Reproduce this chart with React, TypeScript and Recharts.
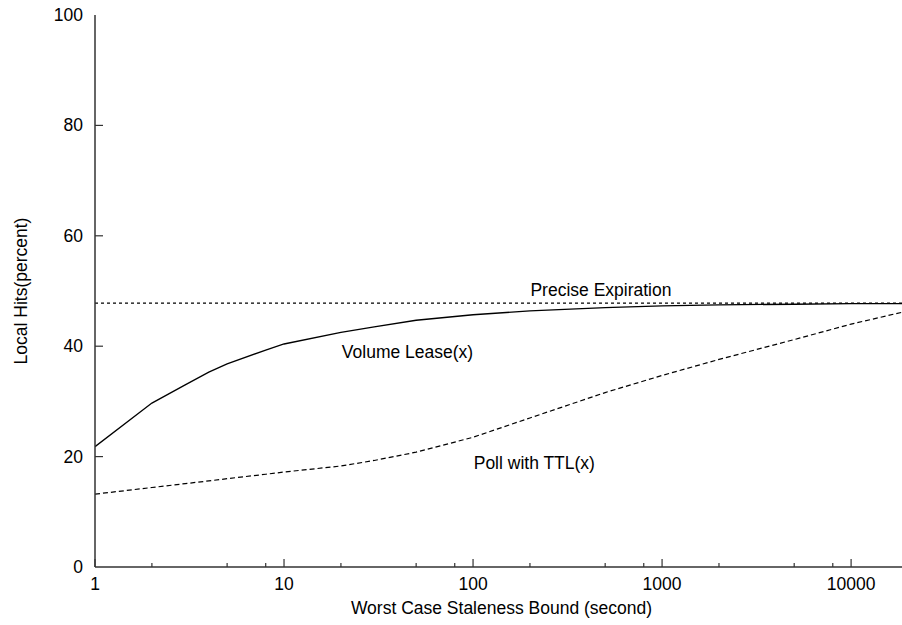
import { Label, Line, LineChart, ReferenceDot, XAxis, YAxis } from 'recharts'

const staleness = [1, 2, 3, 4, 5, 8, 10, 20, 30, 50, 100, 200, 500, 1000, 2000, 5000, 10000, 20000]
const preciseExpiration = [47.8, 47.8, 47.8, 47.8, 47.8, 47.8, 47.8, 47.8, 47.8, 47.8, 47.8, 47.8, 47.8, 47.8, 47.8, 47.8, 47.8, 47.8]
const volumeLease = [21.8, 29.7, 33.0, 35.3, 36.8, 39.3, 40.4, 42.5, 43.5, 44.7, 45.7, 46.4, 47.0, 47.3, 47.5, 47.6, 47.7, 47.7]
const pollTTL = [13.2, 14.4, 15.1, 15.6, 16.0, 16.8, 17.2, 18.3, 19.3, 20.8, 23.5, 27.0, 31.6, 34.7, 37.6, 41.2, 44.0, 46.4]

const xTicks = [1, 2, 5, 8, 10, 20, 50, 80, 100, 200, 500, 800, 1000, 2000, 5000, 8000, 10000, 20000]
const yTicks = [0, 20, 40, 60, 80, 100]

const curveLabels = [
  { x: 475, y: 50.2, text: 'Precise Expiration' },
  { x: 45, y: 38.9, text: 'Volume Lease(x)' },
  { x: 211, y: 18.8, text: 'Poll with TTL(x)' },
]

const rows = staleness.map((s, i) => ({ s, precise: preciseExpiration[i], volume: volumeLease[i], poll: pollTTL[i] }))

const FONT = '"Liberation Sans", Arial, Helvetica, sans-serif'
const FS = 17.5
const AXIS = '#333'
const isMajor = (v: number) => Math.abs(Math.log10(v) - Math.round(Math.log10(v))) < 1e-9

function BottomTick({ x, y, payload }: any) {
  const major = isMajor(payload.value)
  if (payload.value >= 20000) return null
  return (
    <g>
      <line x1={x} y1={y} x2={x} y2={y - (major ? 8 : 4)} stroke={AXIS} strokeWidth={1.2} />
      {major && (
        <text x={x} y={y + 17} textAnchor="middle" dominantBaseline="central" fontSize={FS} fontFamily={FONT} fill="#000">
          {payload.value}
        </text>
      )}
    </g>
  )
}

function TopTick({ x, y, payload }: any) {
  if (payload.value >= 20000 || payload.value <= 1) return null
  const major = isMajor(payload.value)
  return <line x1={x} y1={y} x2={x} y2={y + (major ? 8 : 4)} stroke={AXIS} strokeWidth={1.2} />
}

function LeftTick({ x, y, payload }: any) {
  return (
    <g>
      {payload.value > 0 && payload.value < 100 && <line x1={x} y1={y} x2={x + 8} y2={y} stroke={AXIS} strokeWidth={1.2} />}
      <text x={x - 12} y={y} textAnchor="end" dominantBaseline="central" fontSize={FS} fontFamily={FONT} fill="#000">
        {payload.value}
      </text>
    </g>
  )
}

function RightTick({ x, y, payload }: any) {
  if (payload.value <= 0 || payload.value >= 100) return null
  return <line x1={x} y1={y} x2={x - 8} y2={y} stroke={AXIS} strokeWidth={1.2} />
}

function YTitle({ viewBox }: any) {
  const cx = 21
  const cy = viewBox.y + viewBox.height / 2
  return (
    <text x={cx} y={cy} transform={`rotate(-90, ${cx}, ${cy})`} textAnchor="middle" dominantBaseline="central"
      fontSize={FS} fontFamily={FONT} fill="#000">
      Local Hits(percent)
    </text>
  )
}

function XTitle({ viewBox }: any) {
  const cx = viewBox.x + viewBox.width / 2
  return (
    <text x={cx} y={viewBox.y + 41} textAnchor="middle" dominantBaseline="central" fontSize={FS} fontFamily={FONT} fill="#000">
      Worst Case Staleness Bound (second)
    </text>
  )
}

export default function App() {
  return (
    <div style={{ position: 'absolute', left: 0, top: 0, width: 902, height: 625, overflow: 'hidden', background: '#fff' }}>
      <LineChart width={910} height={625} data={rows} margin={{ top: 15, right: 2, bottom: 0, left: 0 }}>
        <XAxis dataKey="s" type="number" scale="log" domain={[1, 20000]} allowDataOverflow ticks={xTicks} interval={0}
          height={58} tickSize={0} tickMargin={0} tickLine={false} tick={<BottomTick />}
          axisLine={{ stroke: AXIS, strokeWidth: 1.5 }} label={<XTitle />} />
        <XAxis xAxisId="top" orientation="top" dataKey="s" type="number" scale="log" domain={[1, 20000]} allowDataOverflow
          ticks={xTicks} interval={0} height={0} tickSize={0} tickMargin={0} tickLine={false} tick={<TopTick />}
          axisLine={{ stroke: AXIS, strokeWidth: 1.5 }} />
        <YAxis domain={[0, 100]} ticks={yTicks} interval={0} width={95} tickSize={0} tickMargin={0} tickLine={false}
          tick={<LeftTick />} axisLine={{ stroke: AXIS, strokeWidth: 1.5 }} label={<YTitle />} />
        <YAxis yAxisId="right" orientation="right" domain={[0, 100]} ticks={yTicks} interval={0} width={0} tickSize={0}
          tickMargin={0} tickLine={false} tick={<RightTick />} axisLine={{ stroke: AXIS, strokeWidth: 1.5 }} />
        <Line dataKey="precise" type="linear" stroke="#000" strokeWidth={1.1} strokeDasharray="3 3" dot={false}
          activeDot={false} isAnimationActive={false} />
        <Line dataKey="volume" type="linear" stroke="#000" strokeWidth={1.3} dot={false} activeDot={false}
          isAnimationActive={false} />
        <Line dataKey="poll" type="linear" stroke="#000" strokeWidth={1.2} strokeDasharray="5 3" dot={false}
          activeDot={false} isAnimationActive={false} />
        {curveLabels.map((c) => (
          <ReferenceDot key={c.text} x={c.x} y={c.y} r={0} fill="none" stroke="none" ifOverflow="visible">
            <Label value={c.text} position="center" fontSize={FS} fontFamily={FONT} fill="#000" />
          </ReferenceDot>
        ))}
      </LineChart>
    </div>
  )
}
